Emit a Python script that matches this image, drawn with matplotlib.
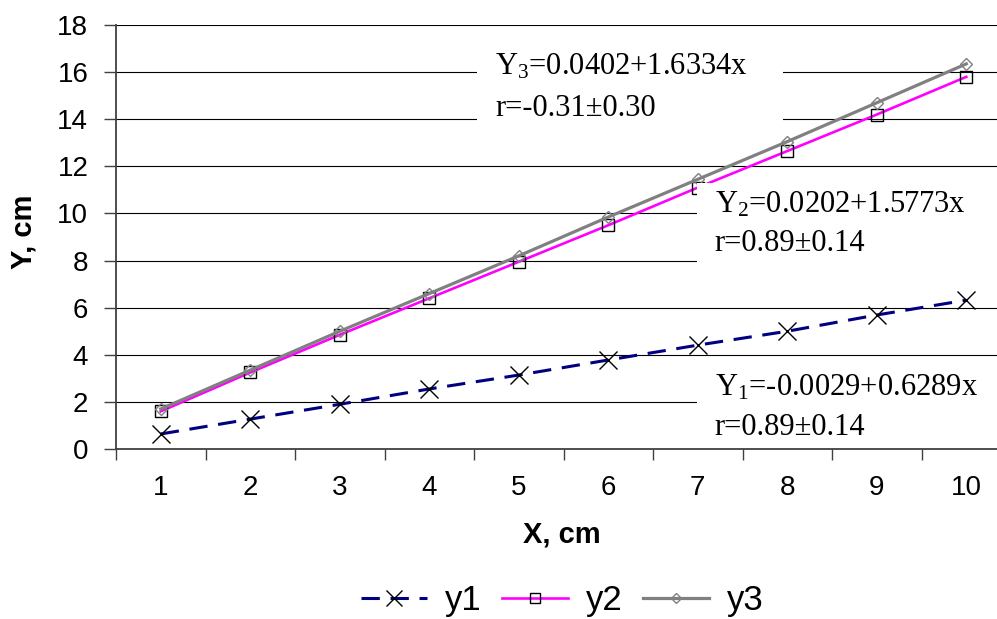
import numpy as np
import matplotlib
matplotlib.use('Agg')
import matplotlib.pyplot as plt
from matplotlib.patches import Rectangle
from matplotlib.ticker import FixedLocator

plt.rcParams.update({
    'font.family': 'Liberation Sans',
    'mathtext.default': 'regular',
})

# -- data --
x = np.arange(1, 11)
y1 = [0.64, 1.27, 1.90, 2.55, 3.14, 3.78, 4.41, 5.00, 5.69, 6.32]
y2 = [1.60, 3.25, 4.85, 6.40, 7.95, 9.50, 11.10, 12.65, 14.20, 15.80]
y3 = [1.70, 3.35, 5.00, 6.60, 8.20, 9.85, 11.45, 13.05, 14.70, 16.35]

fits = [
    ('Y$_3$=0.0402+1.6334x', 'r=-0.31\u00b10.30'),
    ('Y$_2$=0.0202+1.5773x', 'r=0.89\u00b10.14'),
    ('Y$_1$=-0.0029+0.6289x', 'r=0.89\u00b10.14'),
]

fig = plt.figure(figsize=(9.97, 6.19), dpi=100)
ax = fig.add_axes([0.1164, 0.2746, 0.8977, 0.685])

ax.plot(x, y1, color='#000080', lw=2.2, ls=(0, (6, 3.5)), marker='x',
        ms=13, mec='black', mew=1.0, label='y1', zorder=2)
ax.plot(x, y2, color='#ff00ff', lw=1.9, marker='s', ms=8.5,
        mec='black', mfc='none', mew=1.0, label='y2', zorder=2)
ax.plot(x, y3, color='#808080', lw=2.3, marker='D', ms=6.5,
        mec='#808080', mfc='none', mew=1.0, label='y3', zorder=2)

ax.set_xlim(0.5, 10.5)
ax.set_ylim(0, 18)
ax.set_yticks(np.arange(0, 19, 2))
ax.set_xticks(x)
ax.xaxis.set_minor_locator(FixedLocator(np.arange(0.5, 11, 1)))
ax.tick_params(axis='x', which='major', length=0, pad=19, labelsize=20)
ax.tick_params(axis='x', which='minor', length=8, width=1.0, color='#404040')
ax.tick_params(axis='y', length=9, width=1.0, color='#404040', pad=11,
               labelsize=20)
ax.grid(True, axis='y', color='black', lw=0.8, zorder=0)
ax.set_axisbelow(True)

for side in ('top', 'right'):
    ax.spines[side].set_visible(False)
for side in ('left', 'bottom'):
    ax.spines[side].set_color('#404040')
    ax.spines[side].set_linewidth(1.3)

# white label boxes hiding grid lines (axes fraction)
boxes = [(0.403, 0.757, 0.342, 0.189),
         (0.649, 0.422, 0.351, 0.205),
         (0.649, 0.007, 0.351, 0.191)]
for bx, by, bw, bh in boxes:
    ax.add_patch(Rectangle((bx, by), bw, bh, transform=ax.transAxes,
                           facecolor='white', edgecolor='none', zorder=2.3))

text_pos = [(0.4235, 0.884, 0.785), (0.669, 0.557, 0.467),
            (0.669, 0.127, 0.033)]
for (l1, l2), (tx, ty1, ty2) in zip(fits, text_pos):
    ax.text(tx, ty1, l1, transform=ax.transAxes, family='Liberation Serif',
            fontsize=22, va='baseline', ha='left', zorder=3)
    ax.text(tx, ty2, l2, transform=ax.transAxes, family='Liberation Serif',
            fontsize=22, va='baseline', ha='left', zorder=3)

fig.text(0.564, 0.136, 'X, cm', fontsize=21, fontweight='bold',
         ha='center', va='center')
fig.text(0.024, 0.625, 'Y, cm', fontsize=21, fontweight='bold',
         ha='center', va='center', rotation=90)

fig.legend(loc='center', bbox_to_anchor=(0.564, 0.03), ncol=3,
           frameon=False, fontsize=25, handlelength=1.9, markerscale=0.85,
           handletextpad=0.5, columnspacing=0.6)

fig.savefig('out.png', dpi=100)
